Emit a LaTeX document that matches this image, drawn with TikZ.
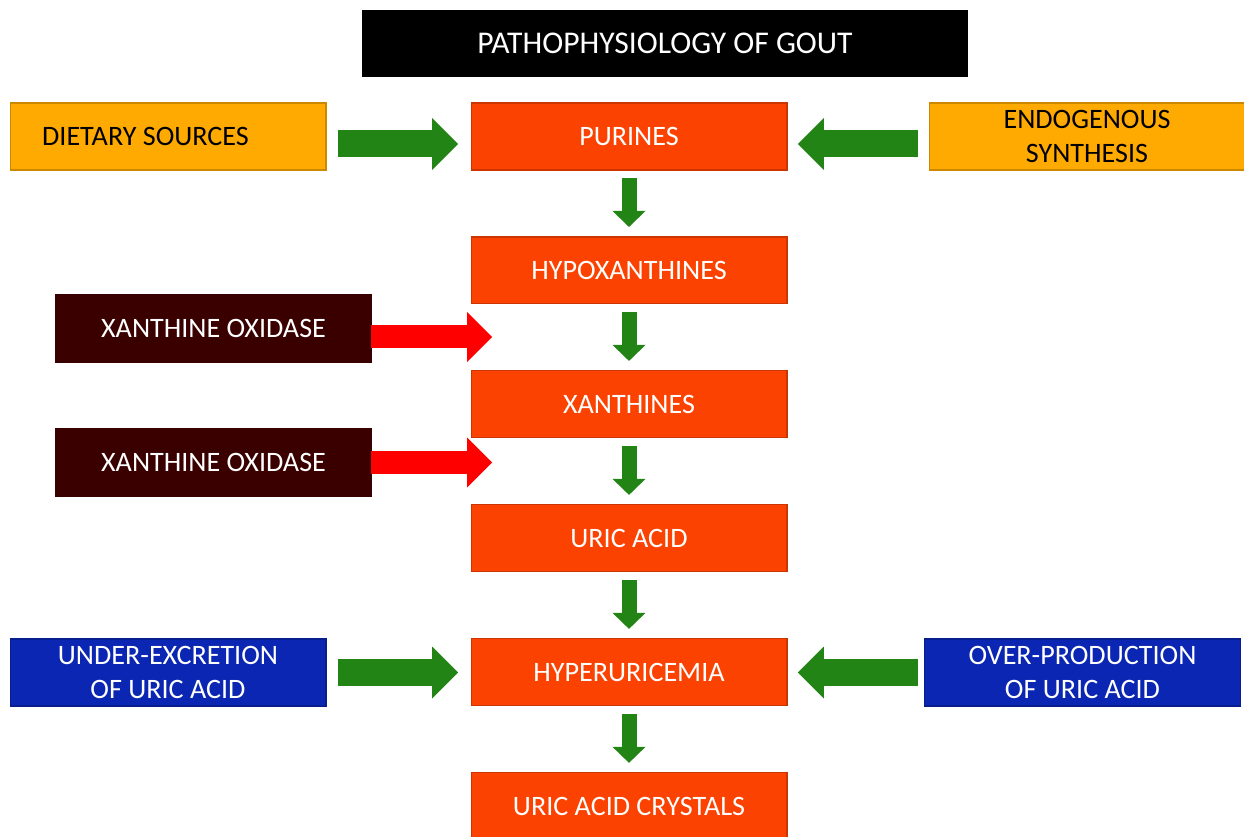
\documentclass[tikz,border=0pt]{standalone}
\usepackage{fontspec}
\setmainfont{Carlito}
\usetikzlibrary{arrows.meta,positioning}
\definecolor{boxorange}{RGB}{255,170,0}
\definecolor{boxred}{RGB}{252,66,0}
\definecolor{boxbrown}{RGB}{58,0,0}
\definecolor{boxblue}{RGB}{10,38,178}
\definecolor{arrowgreen}{RGB}{34,132,20}
\definecolor{arrowred}{RGB}{255,0,0}
\tikzset{
  box/.style={minimum width=6.32cm, minimum height=1.34cm, inner sep=0pt,
    outer sep=0pt, align=center, line width=0.6pt,
    font=\fontsize{16}{19}\selectfont},
  stage/.style={box, fill=boxred, draw=boxred!80!black, text=white},
  source/.style={box, fill=boxorange, draw=boxorange!80!black, text=black},
  enzyme/.style={box, fill=boxbrown, draw=boxbrown, text=white},
  cause/.style={box, fill=boxblue, draw=boxblue!80!black, text=white},
  flow/.style={arrowgreen, line width=0.3cm,
    -{Triangle[width=0.66cm, length=0.32cm, line width=0pt]},
    shorten <=0.16cm, shorten >=0.2cm},
  feed/.style={arrowgreen, line width=0.54cm,
    -{Triangle[width=1.04cm, length=0.52cm, line width=0pt]},
    shorten <=0.24cm, shorten >=0.26cm},
  enz/.style={arrowred, line width=0.46cm,
    -{Triangle[width=1.0cm, length=0.5cm, line width=0pt]}}
}

\begin{document}
\begin{tikzpicture}[x=0.02cm, y=-0.02cm, node distance=1.34cm]
  \useasboundingbox (0,0) rectangle (1244,837);

  \node [box, fill=black, text=white, minimum width=12.12cm,
    font=\fontsize{18}{21}\selectfont] (title) at (665,43.5) {PATHOPHYSIOLOGY OF GOUT};

  % main pathway
  \node [stage] (purines) at (629,136.5) {PURINES};
  \node [stage, below=of purines] (hypo) {HYPOXANTHINES};
  \node [stage, below=of hypo] (xan) {XANTHINES};
  \node [stage, below=of xan] (uric) {URIC ACID};
  \node [stage, below=of uric] (hyper) {HYPERURICEMIA};
  \node [stage, below=of hyper] (crystals) {URIC ACID CRYSTALS};

  % inputs
  \node [source] (diet) at (168,136.5) {\hspace*{-0.9cm}DIETARY SOURCES};
  \node [source] (endo) at (1087,136.5) {ENDOGENOUS\\SYNTHESIS};
  \node [enzyme] (xo1) at (213.5,328.5) {XANTHINE OXIDASE};
  \node [enzyme] (xo2) at (213.5,462.5) {XANTHINE OXIDASE};
  \node [cause] (under) at (168,672.5) {UNDER-EXCRETION\\OF URIC ACID};
  \node [cause] (over) at (1082.5,672.5) {OVER-PRODUCTION\\OF URIC ACID};

  \foreach \a/\b in {purines/hypo, hypo/xan, xan/uric, uric/hyper, hyper/crystals}
    \draw [flow] (\a) -- (\b);

  \draw [feed] ([yshift=-0.15cm]diet.east) -- ([yshift=-0.15cm]purines.west);
  \draw [feed, shorten <=0.22cm, shorten >=0.22cm]
    ([yshift=-0.15cm]endo.west) -- ([yshift=-0.15cm]purines.east);
  \draw [feed] (under.east) -- (hyper.west |- under.east);
  \draw [feed, shorten <=0.14cm, shorten >=0.22cm] (over.west) -- (hyper.east |- over.west);

  \coordinate (xo1tip) at (492,337);
  \coordinate (xo2tip) at (492,462.5);
  \draw [enz] (xo1.east |- xo1tip) -- (xo1tip);
  \draw [enz] (xo2.east) -- (xo2tip);
\end{tikzpicture}
\end{document}
